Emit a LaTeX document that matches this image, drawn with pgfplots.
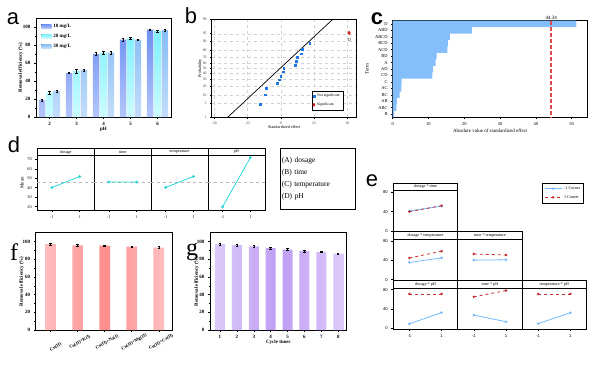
\documentclass[border=0pt]{standalone}
\usepackage{fontspec}
\setmainfont{Liberation Serif}
\newfontfamily\arial{Liberation Sans}
\usepackage{pgfplots}
\pgfplotsset{compat=1.18}
\definecolor{aA}{HTML}{6F90F2}
\definecolor{aAl}{HTML}{B3C6FA}
\definecolor{aB}{HTML}{7DF0FA}
\definecolor{aBl}{HTML}{CCFBFF}
\definecolor{aC}{HTML}{86BDF5}
\definecolor{aCl}{HTML}{C4DDFA}
\definecolor{pblue}{HTML}{1E78E6}
\definecolor{pred}{HTML}{D01818}
\definecolor{cbar}{HTML}{84BFFC}
\definecolor{thrred}{HTML}{E04A4A}
\definecolor{dline}{HTML}{2BD6D8}
\definecolor{eblue}{HTML}{74B9FF}
\definecolor{ered}{HTML}{C42A2E}
\definecolor{fbar}{HTML}{FF8E8E}
\definecolor{fbarl}{HTML}{FFBDBD}
\definecolor{gbar}{HTML}{BE9CF2}
\definecolor{gbarl}{HTML}{DCCBFA}
\newcommand\fa{\fontsize{5}{6}\selectfont}
\newcommand\fb{\fontsize{4.2}{5}\selectfont}
\tikzset{
  hdrd/.style={draw=black, line width=0.6bp, minimum width=56.9bp, minimum height=7.4bp,
    inner sep=0pt, outer sep=0pt, font=\fb, fill=white, anchor=south},
  hdre/.style={draw=black, line width=0.6bp, minimum width=64.4bp, minimum height=7.6bp,
    inner sep=0pt, outer sep=0pt, font=\fb, fill=white, anchor=south},
}
\pgfplotsset{
  every axis/.append style={scale only axis, anchor=north west, line width=0.6bp,
    /pgf/number format/assume math mode=true, tick pos=left, tick align=outside,
    major tick length=2bp, minor tick length=1.2bp, tick style={line width=0.5bp, black}},
  dstyle/.style={width=56.9bp, height=54.3bp, xmin=-2.05, xmax=2.05, ymin=16.5, ymax=73.8,
    xtick={-1,1}, ytick={20,30,...,70}, ticklabel style={font=\fb}, clip=false},
  estyle/.style={width=64.4bp, height=41bp, xmin=-2, xmax=2, ymin=-1.5, ymax=83.5,
    xtick={-1,1}, ytick={0,40,80}, ticklabel style={font=\arial\fb}, clip=false},
  eb/.style={eblue, line width=0.8bp, mark=*, mark size=0.8bp},
  er/.style={ered, dashed, line width=0.8bp, mark=*, mark size=0.8bp, mark options={solid}},
  dl/.style={dline, line width=0.8bp, mark=*, mark size=1bp},
  dm/.style={gray!55, dashed, line width=0.4bp},
  errs/.style={error bars/y dir=both, error bars/y explicit,
    error bars/error bar style={black, line width=0.4bp},
    error bars/error mark options={black, rotate=90, mark size=1.2bp, line width=0.4bp}},
}
\begin{document}
\begin{tikzpicture}
\path[use as bounding box] (0,0) rectangle (600bp,-368bp);
% panel labels
\node[font=\arial\fontsize{22}{22}\selectfont] at (13bp,-19bp) {a};
\node[font=\arial\fontsize{22}{22}\selectfont] at (191bp,-16bp) {b};
\node[font=\arial\bfseries\fontsize{22}{22}\selectfont] at (377bp,-19bp) {c};
\node[font=\arial\fontsize{22}{22}\selectfont] at (14bp,-145bp) {d};
\node[font=\arial\fontsize{22}{22}\selectfont] at (372bp,-181bp) {e};
\node[font=\fontsize{24}{24}\selectfont] at (14bp,-252bp) {f};
\node[font=\fontsize{24}{24}\selectfont] at (192bp,-252bp) {g};

% ---------------- a
\begin{axis}[at={(36bp,-18bp)}, width=135bp, height=99bp,
  xmin=1.5, xmax=6.5, ymin=0, ymax=110, xtick={2,3,4,5,6}, ytick={0,20,...,100},
  minor y tick num=1, ybar=0.8bp, bar width=6.6bp,
  ticklabel style={font=\fa\bfseries},
  xlabel={pH}, ylabel={Removal efficiency (\%)}, label style={font=\fa\bfseries},
  xlabel style={at={(axis description cs:0.5,-0.125)}, anchor=center},
  ylabel style={at={(axis description cs:-0.113,0.5)}, anchor=center},
  legend style={at={(0.03,0.975)}, anchor=north west, draw=none, fill=none,
    font=\fa\bfseries, row sep=1.2bp, legend cell align=left, inner sep=1bp},
  legend image code/.code={\fill[#1] (0bp,-2bp) rectangle (10bp,2bp);}]
\addplot[draw=none, top color=aA, bottom color=aAl, errs] coordinates {
 (2,19) +- (0,1.2) (3,49) +- (0,0.7) (4,70) +- (0,1.5) (5,86) +- (0,2) (6,97) +- (0,0.8)};
\addplot[draw=none, top color=aB, bottom color=aBl, errs] coordinates {
 (2,27) +- (0,1.8) (3,51) +- (0,1.8) (4,71.5) +- (0,1.5) (5,87.5) +- (0,1) (6,95.5) +- (0,1)};
\addplot[draw=none, top color=aC, bottom color=aCl, errs] coordinates {
 (2,29) +- (0,1.2) (3,52) +- (0,1.2) (4,71.5) +- (0,1.5) (5,86) +- (0,1) (6,96.5) +- (0,1)};
\legend{10 mg/L, 20 mg/L, 30 mg/L}
\end{axis}

% ---------------- b
\begin{axis}[at={(211.7bp,-19.3bp)}, width=145bp, height=98bp,
  xmin=-52, xmax=57, ymin=-2.3263, ymax=2.3263,
  xtick={-50,-25,0,25,50},
  ytick={-2.3263,-1.6449,-1.2816,-0.8416,-0.5244,-0.2533,0,0.2533,0.5244,0.8416,1.2816,1.6449,2.3263},
  yticklabels={1,5,10,20,30,40,50,60,70,80,90,95,99},
  grid=major, grid style={dashed, gray!35, line width=0.3bp},
  ticklabel style={font=\fontsize{3.8}{4.5}\selectfont, black!75},
  major tick length=1.5bp,
  xlabel={Standardized effect}, ylabel={Probability}, label style={font=\fb},
  xlabel style={at={(axis description cs:0.5,-0.1)}, anchor=center},
  ylabel style={at={(axis description cs:-0.08,0.5)}, anchor=center},
  legend style={at={(0.905,0.074)}, anchor=south east, font=\fontsize{3.8}{4.5}\selectfont,
    draw=black, line width=0.4bp, inner sep=1bp, row sep=0.5bp, legend cell align=left}]
\addplot[black, line width=0.7bp, forget plot] coordinates {(-40,-2.3263) (39,2.3263)};
\addplot[only marks, mark=square*, mark size=0.8bp, pblue] coordinates {
 (-15.5,-1.71) (-11.75,-1.25) (-11,-0.96) (-2.5,-0.72) (-1.25,-0.54) (0,-0.37) (2,-0.16)
 (2.2,-0.01) (11,0.14) (11.75,0.32) (12.25,0.51) (15.5,0.69) (16.25,0.91) (21.75,1.2)};
\addplot[only marks, mark=diamond*, mark size=1.6bp, pred] coordinates {(51.3,1.68)};
\legend{Not significant, Significant}
\node[font=\fontsize{4.5}{5}\selectfont, black!80, below=2bp] at (axis cs:51.3,1.68) {D};
\end{axis}

% ---------------- c
\begin{axis}[at={(392.7bp,-20.7bp)}, width=195bp, height=96.6bp, clip=false,
  xmin=0, xmax=54.5, ymin=0.5, ymax=15.5, y dir=reverse,
  xtick={0,10,...,50}, ytick={1,...,15},
  yticklabels={D,ABD,ABCD,BCD,ACD,BD,A,AD,CD,C,AC,BC,AB,ABC,B},
  ticklabel style={font=\fontsize{4.5}{5}\selectfont},
  major tick length=1.5bp,
  xlabel={Absolute value of standardized effect}, ylabel={Term}, label style={font=\fontsize{5}{6}\selectfont},
  xlabel style={at={(axis description cs:0.5,-0.135)}, anchor=center},
  ylabel style={at={(axis description cs:-0.132,0.5)}, anchor=center}]
\addplot[xbar, bar width=6.44bp, draw=none, fill=cbar] coordinates {
 (51.3,1) (22.1,2) (16.0,3) (15.4,4) (15.3,5) (12.3,6) (12.0,7) (11.3,8) (11.1,9)
 (2.5,10) (2.4,11) (1.9,12) (1.2,13) (1.0,14) (0.4,15)};
\addplot[draw=thrred, dash pattern=on 4bp off 2bp, line width=1.8bp, mark=none, forget plot] coordinates {(44.34,0.5) (44.34,15.5)};
\node[font=\fontsize{5}{6}\selectfont, anchor=south, inner sep=1bp] at (axis cs:44.34,0.5) {44.34};
\end{axis}

% ---------------- d
\begin{axis}[dstyle, at={(37.3bp,-155.7bp)}, ylabel={Mean},
  ylabel style={font=\fontsize{5}{6}\selectfont, at={(axis description cs:-0.27,0.5)}, anchor=center}]
\addplot[dm] coordinates {(-2.05,46.1) (2.05,46.1)};
\addplot[dl] coordinates {(-1,40.2) (1,51.7)};
\node[hdrd] at (rel axis cs:0.5,1) {dosage};
\end{axis}
\begin{axis}[dstyle, at={(94.2bp,-155.7bp)}, ytick=\empty]
\addplot[dm] coordinates {(-2.05,46.1) (2.05,46.1)};
\addplot[dl] coordinates {(-1,46.1) (1,46.0)};
\node[hdrd] at (rel axis cs:0.5,1) {time};
\end{axis}
\begin{axis}[dstyle, at={(151.1bp,-155.7bp)}, ytick=\empty]
\addplot[dm] coordinates {(-2.05,46.1) (2.05,46.1)};
\addplot[dl] coordinates {(-1,40.3) (1,51.9)};
\node[hdrd] at (rel axis cs:0.5,1) {temperature};
\end{axis}
\begin{axis}[dstyle, at={(208bp,-155.7bp)}, ytick=\empty]
\addplot[dm] coordinates {(-2.05,46.1) (2.05,46.1)};
\addplot[dl] coordinates {(-1,19.8) (1,71.8)};
\node[hdrd] at (rel axis cs:0.5,1) {pH};
\end{axis}
\node[draw, line width=0.6bp, anchor=north west, align=left, font=\fontsize{7.5}{12.3}\selectfont,
  text width=72bp, inner xsep=1.5bp, minimum height=61bp] at (280bp,-148bp)
  {(A) dosage\\(B) time\\(C) temperature\\(D) pH};

% ---------------- e
\begin{axis}[estyle, at={(393.3bp,-190.7bp)}, xtick=\empty,
  legend style={at={(2.961,1.195)}, anchor=north east, font=\fontsize{4.2}{5}\selectfont,
    draw=black, line width=0.6bp, inner sep=1.5bp, row sep=0.5bp, legend cell align=left}]
\addplot[eb] coordinates {(-1,41.5) (1,51.5)};
\addplot[er] coordinates {(-1,40) (1,52.5)};
\legend{-1 Corner, 1 Corner}
\node[hdre] at (rel axis cs:0.5,1) {dosage * time};
\end{axis}
\begin{axis}[estyle, at={(393.3bp,-239.3bp)}, xtick=\empty]
\addplot[eb] coordinates {(-1,35.5) (1,45)};
\addplot[er] coordinates {(-1,44.8) (1,58.8)};
\node[hdre] at (rel axis cs:0.5,1) {dosage * temperature};
\end{axis}
\begin{axis}[estyle, at={(457.7bp,-239.3bp)}, xtick=\empty, ytick=\empty]
\addplot[eb] coordinates {(-1,40.3) (1,41)};
\addplot[er] coordinates {(-1,53) (1,51)};
\node[hdre] at (rel axis cs:0.5,1) {time * temperature};
\end{axis}
\begin{axis}[estyle, at={(393.3bp,-287.9bp)}]
\addplot[eb] coordinates {(-1,9) (1,32.5)};
\addplot[er] coordinates {(-1,71) (1,71)};
\node[hdre] at (rel axis cs:0.5,1) {dosage * pH};
\end{axis}
\begin{axis}[estyle, at={(457.7bp,-287.9bp)}, ytick=\empty]
\addplot[eb] coordinates {(-1,27) (1,13.5)};
\addplot[er] coordinates {(-1,65) (1,78)};
\node[hdre] at (rel axis cs:0.5,1) {time * pH};
\end{axis}
\begin{axis}[estyle, at={(522.1bp,-287.9bp)}, ytick=\empty]
\addplot[eb] coordinates {(-1,9.5) (1,32)};
\addplot[er] coordinates {(-1,71) (1,71)};
\node[hdre] at (rel axis cs:0.5,1) {temperature * pH};
\end{axis}

% ---------------- f
\begin{axis}[at={(35.7bp,-232.7bp)}, width=136.6bp, height=97.3bp,
  xmin=0.45, xmax=5.5, ymin=0, ymax=110, ytick={0,20,...,100}, minor y tick num=1,
  ybar, bar width=10.7bp,
  xtick={2,3,4,5}, xticklabels={Cu(II)+K(I),Cu(II)+Na(I),Cu(II)+Mg(II),Cu(II)+Ca(II)},
  xticklabel style={rotate=30, anchor=center, yshift=-10bp, xshift=-3bp, font=\fontsize{4.6}{5.5}\selectfont\bfseries},
  extra x ticks={1}, extra x tick labels={Cu(II)},
  extra x tick style={xticklabel style={rotate=0, anchor=north, yshift=0bp, xshift=0bp}},
  yticklabel style={font=\fa\bfseries},
  ylabel={Removal efficiency (\%)}, ylabel style={font=\fa\bfseries, at={(axis description cs:-0.102,0.5)}, anchor=center}]
\addplot[draw=none, left color=fbarl, right color=fbarl, middle color=fbar, errs] coordinates {
 (1,97) +- (0,1.5) (2,95.8) +- (0,1.3) (3,95.3) +- (0,1) (4,94.3) +- (0,1) (5,93.2) +- (0,1)};
\end{axis}

% ---------------- g
\begin{axis}[at={(210bp,-232.7bp)}, width=136.7bp, height=97.3bp,
  xmin=0.41, xmax=8.5, ymin=0, ymax=110, ytick={0,20,...,100}, minor y tick num=1,
  ybar, bar width=10bp, xtick={1,...,8},
  ticklabel style={font=\fa\bfseries},
  xlabel={Cycle times}, ylabel={Removal efficiency (\%)}, label style={font=\fa\bfseries},
  xlabel style={at={(axis description cs:0.5,-0.127)}, anchor=center},
  ylabel style={at={(axis description cs:-0.097,0.5)}, anchor=center}]
\addplot[draw=none, left color=gbarl, right color=gbarl, middle color=gbar, errs] coordinates {
 (1,97) +- (0,1.5) (2,96) +- (0,1.2) (3,94.6) +- (0,1.2) (4,92.5) +- (0,1) (5,91) +- (0,1.2)
 (6,89.5) +- (0,1) (7,88.4) +- (0,1) (8,86.3) +- (0,1)};
\end{axis}
\end{tikzpicture}
\end{document}
